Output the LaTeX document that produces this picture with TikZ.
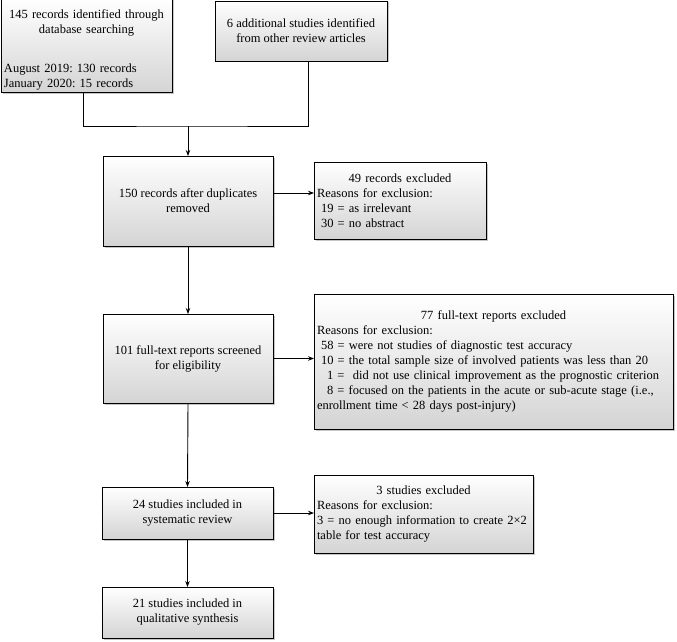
\documentclass[tikz,border=0pt]{standalone}
\usepackage{fontspec}
\setmainfont{Liberation Serif}
\usetikzlibrary{arrows.meta, positioning, shadows}
\definecolor{prgray}{RGB}{212,212,212}
\newcommand{\ctr}[1]{\makebox[\linewidth][c]{#1}}
\frenchspacing

\begin{document}
\begin{tikzpicture}[x=1pt, y=-1pt,
  font=\fontsize{12.5}{15}\selectfont,
  prbox/.style={draw, line width=0.9pt, top color=white, bottom color=prgray,
    drop shadow={shadow xshift=1.5pt, shadow yshift=-1.5pt, opacity=0.45, fill=gray},
    inner sep=3pt, outer sep=0pt},
  prarr/.style={line width=0.9pt, -{Stealth[length=6pt,width=4.5pt]}}]
\useasboundingbox (0,0) rectangle (677,642);

% Sources
\node[prbox, text width=165pt, minimum height=89pt, align=left] (db) at (86.5,45.5)
  {\mbox{}\\[2pt]\ctr{145 records identified through}\\ \ctr{database searching}\\[24pt]
   August 2019: 130 records\\ January 2020: 15 records};
\node[prbox, minimum width=172pt, minimum height=60pt, align=center] (other) at (301,31)
  {6 additional studies identified\\ from other review articles};

% Main stages
\coordinate (join) at (188,126);
\node[prbox, minimum width=170pt, minimum height=90pt, align=center] (dup) at (188,201)
  {150 records after duplicates\\ removed};
\node[prbox, minimum width=170pt, minimum height=89pt, align=center] (full) at (188,358.5)
  {101 full-text reports screened\\ for eligibility};
\node[prbox, minimum width=171pt, minimum height=52pt, align=center] (incl) at (187.5,513)
  {24 studies included in\\ systematic review};
\node[prbox, minimum width=171pt, minimum height=51pt, align=center] (qual) at (187.5,612.5)
  {21 studies included in\\ qualitative synthesis};

% Exclusions
\node[prbox, text width=166pt, minimum height=77pt, align=left] (excl1) at (400,200.5)
  {\ctr{49 records excluded}\\ Reasons for exclusion:\\
   \hspace{4pt}19 = as irrelevant\\ \hspace{4pt}30 = no abstract};
\node[prbox, text width=353pt, minimum height=135pt, align=left] (excl2) at (493.5,361.5)
  {\ctr{77 full-text reports excluded}\\ Reasons for exclusion:\\
   \hspace{4pt}58 = were not studies of diagnostic test accuracy\\
   \hspace{4pt}10 = the total sample size of involved patients was less than 20\\
   \hspace{10pt}1 =\ \ did not use clinical improvement as the prognostic criterion\\
   \hspace{10pt}8 = focused on the patients in the acute or sub-acute stage (i.e.,\\
   enrollment time < 28 days post-injury)};
\node[prbox, text width=213pt, minimum height=78pt, align=left] (excl3) at (423.5,514)
  {\ctr{3 studies excluded}\\ Reasons for exclusion:\\
   3 = no enough information to create 2×2\\ table for test accuracy};

% Connectors
\draw[line width=0.9pt] ([xshift=-3pt]db.south) |- (join) -| ([xshift=7pt]other.south);
\draw[prarr] (join) -- (dup.north);
\draw[prarr] (dup.south) -- (full.north);
\draw[prarr] (full.south) -- (incl.north);
\draw[prarr] (incl.south) -- (qual.north);
\draw[prarr] ([yshift=8pt]dup.east) -- ([yshift=8pt]dup.east -| excl1.west);
\draw[prarr] (full.east) -- (full.east -| excl2.west);
\draw[prarr] (incl.east) -- (incl.east -| excl3.west);
\end{tikzpicture}
\end{document}
